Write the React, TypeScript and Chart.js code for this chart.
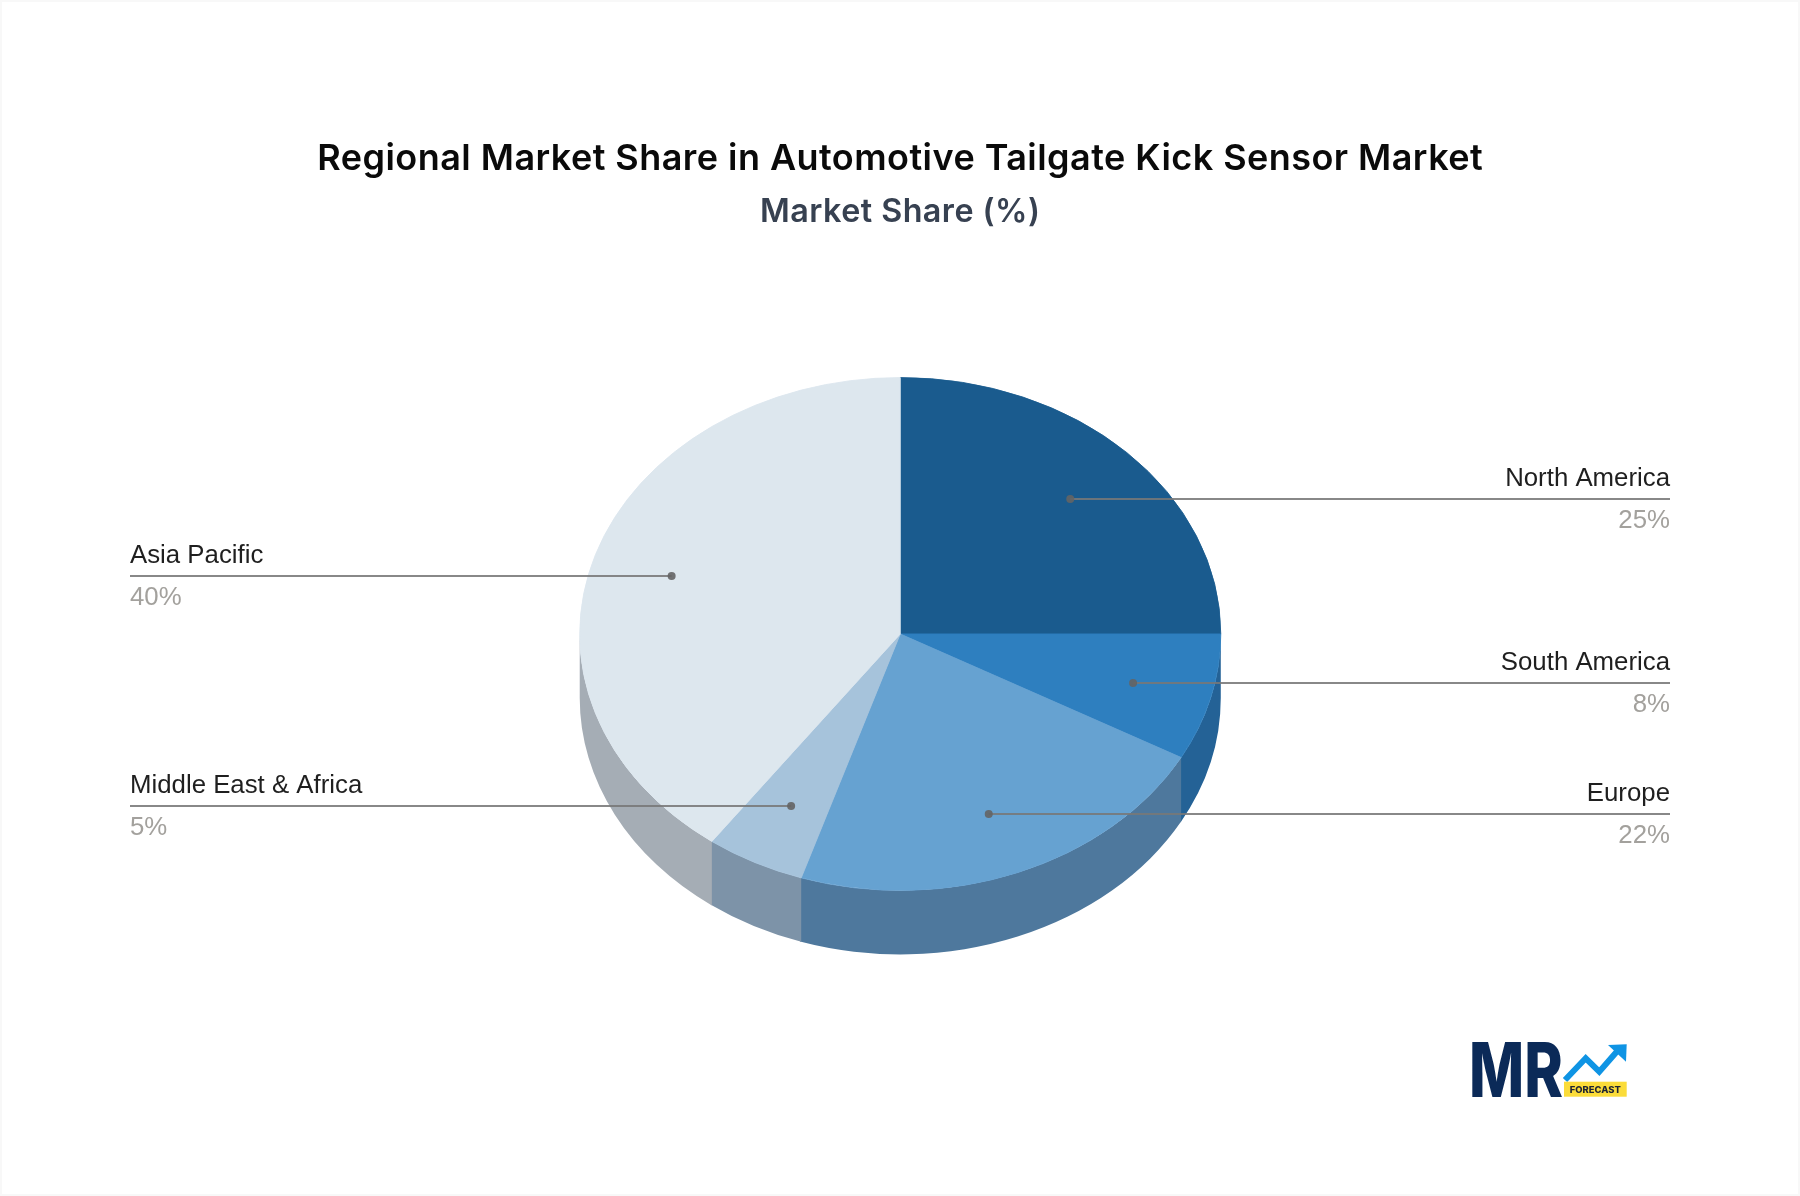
import { useEffect, useRef } from 'react';
import { Chart, registerables } from 'chart.js';

Chart.register(...registerables);

const regions = ['North America', 'South America', 'Europe', 'Middle East & Africa', 'Asia Pacific'];
const shares = [25, 8, 22, 5, 40];

const topColors = ['#1a5b8e', '#2e7fbf', '#66a2d1', '#a6c3db', '#dde7ee'];
const wallColors = ['#134a75', '#246296', '#4e789d', '#7d93a8', '#a5adb5'];

const SQUASH = 0.8;
const DEPTH = 64;

// squashes the pie into an ellipse and puts the side wall under it
const tiltPlugin = {
  id: 'tilt',
  beforeDraw(chart: any) {
    chart.ctx.letterSpacing = '0.45px';
  },
  beforeDatasetsDraw(chart: any) {
    const ctx = chart.ctx;
    const arcs = chart.getDatasetMeta(0).data;
    const cy = arcs[0].y;
    ctx.letterSpacing = '0px';
    ctx.save();
    ctx.translate(0, cy);
    ctx.scale(1, SQUASH);
    ctx.translate(0, -cy);
    const d = DEPTH / SQUASH;
    arcs.forEach((arc: any, i: number) => {
      const a0 = Math.max(arc.startAngle, 0);
      // small overlap so no seam shows between two wall pieces
      const a1 = Math.min(arc.endAngle + 0.004, Math.PI);
      if (a1 <= a0) return;
      ctx.beginPath();
      ctx.arc(arc.x, arc.y, arc.outerRadius, a0, a1);
      ctx.arc(arc.x, arc.y + d, arc.outerRadius, a1, a0, true);
      ctx.closePath();
      ctx.fillStyle = wallColors[i];
      ctx.fill();
    });
  },
  afterDatasetsDraw(chart: any) {
    chart.ctx.restore();
  },
};

// leader lines and the two line labels
const leaderPlugin = {
  id: 'leaders',
  afterDraw(chart: any) {
    const ctx = chart.ctx;
    const arcs = chart.getDatasetMeta(0).data;
    arcs.forEach((arc: any, i: number) => {
      const mid = (arc.startAngle + arc.endAngle) / 2;
      const r = arc.outerRadius * 0.75;
      const x = arc.x + Math.cos(mid) * r;
      const y = Math.round(arc.y + Math.sin(mid) * r * SQUASH + 1);
      const right = Math.cos(mid) > 0;
      const endX = right ? 1670 : 130;

      ctx.strokeStyle = 'rgba(120,120,120,0.88)';
      ctx.lineWidth = 2;
      ctx.beginPath();
      ctx.moveTo(x, y);
      ctx.lineTo(endX, y);
      ctx.stroke();

      ctx.fillStyle = 'rgba(100,100,100,0.9)';
      ctx.beginPath();
      ctx.arc(x, y, 4, 0, Math.PI * 2);
      ctx.fill();

      ctx.textAlign = right ? 'right' : 'left';
      ctx.textBaseline = 'alphabetic';
      ctx.font = '25.8px "Liberation Sans"';
      ctx.fillStyle = '#1f1f1f';
      ctx.fillText(regions[i], endX, y - 13);
      ctx.fillStyle = '#a3a19d';
      ctx.fillText(shares[i] + '%', endX, y + 29);
    });
  },
};

const Logo = () => (
  <svg width="200" height="80" viewBox="1450 1030 200 80" style={{ position: 'absolute', left: 1450, top: 1030 }}>
    <text
      x="1469"
      y="1097"
      fontFamily="Inter"
      fontWeight="800"
      fontSize="75"
      fill="#0b2a58"
      textLength="94"
      lengthAdjust="spacingAndGlyphs"
    >
      MR
    </text>
    <polyline points="1565,1080 1585.7,1058.3 1599.3,1071.7 1616.7,1051.7" fill="none" stroke="#0f94e4" strokeWidth="6" />
    <polygon points="1608,1045 1626.7,1044.3 1626,1061.7" fill="#0f94e4" />
    <rect x="1564" y="1081.7" width="62.7" height="15" fill="#fbdc3a" />
    <text x="1595.3" y="1092.8" textAnchor="middle" fontFamily="Inter" fontWeight="800" fontSize="9" fill="#1c2333" textLength="51" lengthAdjust="spacingAndGlyphs">
      FORECAST
    </text>
  </svg>
);

const App = () => {
  const chartRef = useRef<HTMLCanvasElement>(null);

  useEffect(() => {
    if (!chartRef.current) return;
    const chart = new Chart(chartRef.current, {
      type: 'pie',
      data: {
        labels: regions,
        datasets: [
          {
            data: shares,
            backgroundColor: topColors,
            borderColor: topColors,
            borderWidth: 1,
            clip: false,
          } as any,
        ],
      },
      options: {
        responsive: false,
        animation: false,
        events: [],
        layout: { padding: { left: 258.5, right: 258, top: 0, bottom: 241 } },
        plugins: {
          legend: { display: false },
          tooltip: { enabled: false },
          title: {
            display: true,
            text: 'Regional Market Share in Automotive Tailgate Kick Sensor Market',
            color: '#0a0a0a',
            font: { family: 'Inter', size: 36, weight: 600 },
            padding: { top: 138, bottom: 12 },
          },
          subtitle: {
            display: true,
            text: 'Market Share (%)',
            color: '#374151',
            font: { family: 'Inter', size: 32.3, weight: 600 },
            padding: { top: 0, bottom: 81 },
          },
        },
      },
      plugins: [tiltPlugin, leaderPlugin],
    });
    return () => chart.destroy();
  }, []);

  return (
    <div style={{ position: 'absolute', left: 0, top: 0, width: 1800, height: 1196, background: '#fff', overflow: 'hidden' }}>
      <canvas ref={chartRef} width={1800} height={1196} style={{ display: 'block' }}></canvas>
      <div style={{ position: 'absolute', inset: 0, border: '2px solid #f8f8f8', pointerEvents: 'none' }}></div>
      <Logo />
    </div>
  );
};

export default App;
